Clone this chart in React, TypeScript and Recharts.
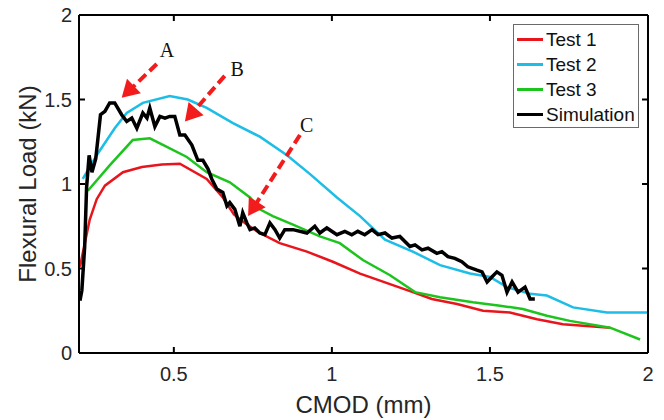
import { LineChart, Line, XAxis, YAxis, ReferenceLine, ReferenceDot } from 'recharts';

// Test 1 (red)
const test1Cmod = [0.203, 0.234, 0.256, 0.282, 0.339, 0.399, 0.462, 0.519, 0.604, 0.655, 0.69, 0.731, 0.772, 0.835, 0.921, 1.003, 1.089, 1.256, 1.316, 1.396, 1.478, 1.563, 1.649, 1.731, 1.88];
const test1Load = [0.51, 0.79, 0.91, 0.99, 1.07, 1.1, 1.115, 1.12, 1.03, 0.92, 0.82, 0.76, 0.71, 0.65, 0.6, 0.54, 0.47, 0.36, 0.32, 0.29, 0.25, 0.24, 0.2, 0.17, 0.15];

// Test 2 (cyan)
const test2Cmod = [0.212, 0.256, 0.313, 0.351, 0.402, 0.487, 0.544, 0.604, 0.687, 0.772, 0.858, 0.93, 1.016, 1.089, 1.168, 1.256, 1.342, 1.437, 1.5, 1.554, 1.627, 1.68, 1.763, 1.87, 2.0];
const test2Load = [1.03, 1.17, 1.33, 1.42, 1.48, 1.52, 1.5, 1.45, 1.36, 1.28, 1.17, 1.06, 0.92, 0.81, 0.67, 0.6, 0.52, 0.47, 0.45, 0.39, 0.35, 0.34, 0.27, 0.24, 0.24];

// Test 3 (green)
const test3Cmod = [0.228, 0.297, 0.37, 0.424, 0.478, 0.541, 0.604, 0.677, 0.741, 0.772, 0.813, 0.877, 0.962, 1.025, 1.098, 1.184, 1.263, 1.342, 1.446, 1.532, 1.604, 1.68, 1.753, 1.88, 1.975];
const test3Load = [0.96, 1.11, 1.26, 1.27, 1.22, 1.16, 1.07, 1.01, 0.92, 0.85, 0.81, 0.76, 0.69, 0.65, 0.55, 0.46, 0.36, 0.33, 0.3, 0.28, 0.26, 0.22, 0.19, 0.15, 0.08];

// Simulation (black)
const simCmod = [0.203, 0.209, 0.218, 0.224, 0.232, 0.241, 0.253, 0.268, 0.282, 0.297, 0.313, 0.335, 0.351, 0.367, 0.383, 0.402, 0.415, 0.424, 0.44, 0.456, 0.472, 0.487, 0.503, 0.519, 0.535, 0.557, 0.576, 0.592, 0.608, 0.62, 0.636, 0.655, 0.668, 0.677, 0.693, 0.709, 0.718, 0.731, 0.741, 0.756, 0.772, 0.788, 0.804, 0.82, 0.835, 0.851, 0.877, 0.921, 0.946, 0.962, 0.984, 1.016, 1.041, 1.063, 1.082, 1.104, 1.127, 1.146, 1.168, 1.19, 1.215, 1.247, 1.263, 1.285, 1.304, 1.332, 1.348, 1.367, 1.389, 1.411, 1.43, 1.459, 1.475, 1.491, 1.506, 1.522, 1.538, 1.554, 1.57, 1.589, 1.611, 1.627, 1.642];
const simLoad = [0.31, 0.37, 0.63, 0.98, 1.17, 1.07, 1.15, 1.41, 1.43, 1.48, 1.48, 1.41, 1.37, 1.39, 1.33, 1.42, 1.39, 1.45, 1.34, 1.4, 1.39, 1.4, 1.4, 1.29, 1.29, 1.23, 1.14, 1.14, 1.09, 1.03, 0.97, 0.95, 0.87, 0.89, 0.85, 0.75, 0.83, 0.77, 0.73, 0.74, 0.71, 0.7, 0.77, 0.73, 0.68, 0.73, 0.73, 0.71, 0.75, 0.71, 0.74, 0.7, 0.72, 0.7, 0.72, 0.7, 0.73, 0.7, 0.71, 0.68, 0.69, 0.63, 0.64, 0.61, 0.62, 0.59, 0.6, 0.57, 0.56, 0.54, 0.51, 0.49, 0.48, 0.42, 0.45, 0.48, 0.46, 0.36, 0.42, 0.36, 0.39, 0.32, 0.32];

const xTicks = [0.5, 1, 1.5, 2];
const yTicks = [0, 0.5, 1, 1.5, 2];

// annotation arrows: start -> tip, plus letter position
const arrowLetters = ['A', 'B', 'C'];
const arrowFrom = [{ x: 0.446, y: 1.71 }, { x: 0.661, y: 1.64 }, { x: 0.899, y: 1.29 }];
const arrowTo = [{ x: 0.335, y: 1.51 }, { x: 0.535, y: 1.37 }, { x: 0.735, y: 0.81 }];
const letterAt = [{ x: 0.478, y: 1.79 }, { x: 0.7, y: 1.68 }, { x: 0.92, y: 1.35 }];

const zip = (xs: number[], ys: number[]) => xs.map((x, i) => ({ x, y: ys[i] }));

const series = [
  { name: 'Test 1', color: '#e8161c', width: 2.5, data: zip(test1Cmod, test1Load) },
  { name: 'Test 2', color: '#1cbde6', width: 2.5, data: zip(test2Cmod, test2Load) },
  { name: 'Test 3', color: '#1ec41e', width: 2.5, data: zip(test3Cmod, test3Load) },
  { name: 'Simulation', color: '#000000', width: 3.5, data: zip(simCmod, simLoad) },
];

const LINE = '#000000';
const LINE_W = 2;
const TICK_LEN = 6;
const FONT = '"Liberation Sans", Arial, sans-serif';

function Arrow(props: any) {
  const { x1, y1, x2, y2 } = props;
  const dx = x2 - x1;
  const dy = y2 - y1;
  const len = Math.sqrt(dx * dx + dy * dy);
  const ux = dx / len;
  const uy = dy / len;
  const head = 17;
  const half = 10;
  const bx = x2 - ux * head;
  const by = y2 - uy * head;
  const pts = `${x2},${y2} ${bx - uy * half},${by + ux * half} ${bx + uy * half},${by - ux * half}`;
  return (
    <g>
      <line x1={x1} y1={y1} x2={bx + ux * 2} y2={by + uy * 2} stroke='#f21c1c' strokeWidth={4} strokeDasharray='10 5' />
      <polygon points={pts} fill='#f21c1c' />
    </g>
  );
}

function Border(props: any) {
  const { x1, y1, x2, y2 } = props;
  return <line x1={x1} y1={y1} x2={x2} y2={y2} stroke={LINE} strokeWidth={LINE_W} />;
}

// inward ticks at both ends of a vertical reference line
function XTickMarks(props: any) {
  const { x1, y1, y2 } = props;
  const top = Math.min(y1, y2);
  const bottom = Math.max(y1, y2);
  return (
    <g>
      <line x1={x1} y1={top} x2={x1} y2={top + TICK_LEN} stroke={LINE} strokeWidth={LINE_W} />
      <line x1={x1} y1={bottom} x2={x1} y2={bottom - TICK_LEN} stroke={LINE} strokeWidth={LINE_W} />
    </g>
  );
}

// inward ticks at both ends of a horizontal reference line
function YTickMarks(props: any) {
  const { x1, x2, y1 } = props;
  const left = Math.min(x1, x2);
  const right = Math.max(x1, x2);
  return (
    <g>
      <line x1={left} y1={y1} x2={left + TICK_LEN} y2={y1} stroke={LINE} strokeWidth={LINE_W} />
      <line x1={right} y1={y1} x2={right - TICK_LEN} y2={y1} stroke={LINE} strokeWidth={LINE_W} />
    </g>
  );
}

function Letter(text: string) {
  return (props: any) => (
    <text x={props.cx} y={props.cy} textAnchor='middle' dominantBaseline='central' fontFamily='"Liberation Serif", serif' fontSize={20} fill='#111'>
      {text}
    </text>
  );
}

function LegendBox() {
  return (
    <div style={{ position: 'absolute', left: 513, top: 24, border: '1.5px solid #6a6a6a', background: '#fff', width: 124, height: 100, boxSizing: 'content-box', paddingTop: 2 }}>
      {series.map((s) => (
        <div key={s.name} style={{ display: 'flex', alignItems: 'center', height: 25, fontFamily: FONT, fontSize: 19, color: '#111' }}>
          <span style={{ display: 'inline-block', width: 26, height: 3, background: s.color, marginLeft: 3, marginRight: 3 }} />
          {s.name}
        </div>
      ))}
    </div>
  );
}

export default function App() {
  return (
    <div style={{ position: 'absolute', left: 0, top: 0, width: 664, height: 420, background: '#fff' }}>
      <LineChart width={664} height={420} margin={{ top: 15, right: 16, bottom: 0, left: 0 }}>
        <XAxis
          xAxisId='b'
          type='number'
          dataKey='x'
          domain={[0.2, 2]}
          ticks={xTicks}
          interval={0}
          height={67}
          stroke={LINE}
          strokeWidth={LINE_W}
          tickLine={false}
          tickSize={0}
          tickMargin={14}
          tick={{ fill: '#262626', fontSize: 20, fontFamily: FONT }}
          label={{ value: 'CMOD (mm)', position: 'center', dy: 18, fill: '#262626', fontSize: 24, fontFamily: FONT }}
        />
        <YAxis
          yAxisId='l'
          type='number'
          domain={[0, 2]}
          ticks={yTicks}
          interval={0}
          width={79}
          stroke={LINE}
          strokeWidth={LINE_W}
          tickLine={false}
          tickSize={0}
          tickMargin={7}
          tick={{ fill: '#262626', fontSize: 20, fontFamily: FONT }}
          label={{ value: 'Flexural Load (kN)', angle: -90, position: 'center', dx: -12, fill: '#262626', fontSize: 24, fontFamily: FONT }}
        />
        {series.map((s) => (
          <Line
            key={s.name}
            xAxisId='b'
            yAxisId='l'
            data={s.data}
            dataKey='y'
            name={s.name}
            type='linear'
            stroke={s.color}
            strokeWidth={s.width}
            dot={false}
            activeDot={false}
            isAnimationActive={false}
          />
        ))}
        <ReferenceLine xAxisId='b' yAxisId='l' segment={[{ x: 0.2, y: 2 }, { x: 2, y: 2 }]} ifOverflow='visible' shape={Border} />
        <ReferenceLine xAxisId='b' yAxisId='l' segment={[{ x: 2, y: 0 }, { x: 2, y: 2 }]} ifOverflow='visible' shape={Border} />
        {xTicks.map((t) => (
          <ReferenceLine key={'xt' + t} xAxisId='b' yAxisId='l' x={t} ifOverflow='visible' shape={XTickMarks} />
        ))}
        {yTicks.map((t) => (
          <ReferenceLine key={'yt' + t} xAxisId='b' yAxisId='l' y={t} ifOverflow='visible' shape={YTickMarks} />
        ))}
        {arrowLetters.map((a, i) => (
          <ReferenceLine key={'ar' + a} xAxisId='b' yAxisId='l' segment={[arrowFrom[i], arrowTo[i]]} ifOverflow='visible' shape={Arrow} />
        ))}
        {arrowLetters.map((a, i) => (
          <ReferenceDot key={'lt' + a} xAxisId='b' yAxisId='l' x={letterAt[i].x} y={letterAt[i].y} r={0} ifOverflow='visible' shape={Letter(a)} />
        ))}
      </LineChart>
      <LegendBox />
    </div>
  );
}
